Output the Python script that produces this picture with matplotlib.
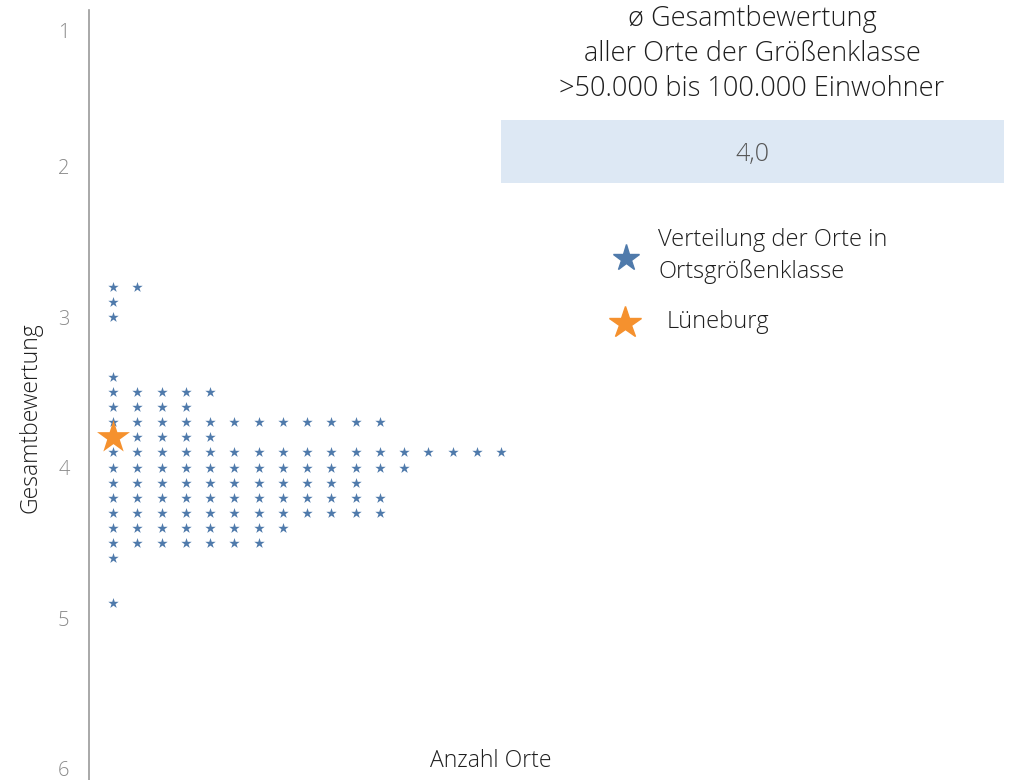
import numpy as np
import matplotlib
matplotlib.use('Agg')
import matplotlib.pyplot as plt
from matplotlib.patches import Rectangle
from matplotlib.transforms import ScaledTranslation

plt.rcParams['font.family'] = ['Open Sans', 'DejaVu Sans']
plt.rcParams['font.weight'] = 'light'

# grade rows and how many places got that grade
grades = [2.8, 2.9, 3.0, 3.4, 3.5, 3.6, 3.7, 3.8, 3.9, 4.0, 4.1, 4.2, 4.3, 4.4, 4.5, 4.6, 4.9]
counts = [2, 1, 1, 1, 5, 4, 12, 5, 17, 13, 11, 12, 12, 8, 7, 1, 1]

highlight_name = 'Lüneburg'
highlight_grade = 3.8
average_grade = '4,0'

title_lines = ['ø Gesamtbewertung', 'aller Orte der Größenklasse', '>50.000 bis 100.000 Einwohner']

blue = '#4f7aab'
orange = '#f5912e'
text_col = '#1e1e1e'

# one star per place, stacked to the right
xs = []
ys = []
for g, c in zip(grades, counts):
    for i in range(c):
        xs.append(i + 1)
        ys.append(g)

fig = plt.figure(figsize=(10.13, 7.8), dpi=100)
ax = fig.add_axes([89 / 1013, 0, 800 / 1013, 770 / 780])

ax.scatter(xs, ys, marker='*', s=62, color=blue, linewidths=0, zorder=2)
ax.scatter([1], [highlight_grade], marker='*', s=620, color=orange, linewidths=0, zorder=3, clip_on=False)

ax.set_xlim(0, 33)
ax.set_ylim(6.076, 0.96)
ax.set_yticks([1, 2, 3, 4, 5, 6])
ax.set_xticks([])
ax.tick_params(axis='y', length=0, pad=14, labelsize=14.5, labelcolor='#8a8a8a')
for s in ['top', 'right', 'bottom']:
    ax.spines[s].set_visible(False)
ax.spines['left'].set_color('#9a9a9a')
ax.spines['left'].set_linewidth(1.2)
# the top label sits a bit lower than its tick
lbl = ax.get_yticklabels()[0]
lbl.set_transform(lbl.get_transform() + ScaledTranslation(0, -14 / 100, fig.dpi_scale_trans))

fig.text(30 / 1013, 1 - 418 / 780, 'Gesamtbewertung', rotation=90, ha='center', va='center',
         fontsize=16.5, color=text_col)
fig.text(491 / 1013, 1 - 761 / 780, 'Anzahl Orte', ha='center', va='center', fontsize=16.5, color=text_col)

# average box on the right
for i, line in enumerate(title_lines):
    fig.text(752 / 1013, 1 - (19 + 35 * i) / 780, line, ha='center', va='center',
             fontsize=19.5, color=text_col)
fig.patches.append(Rectangle((501 / 1013, 1 - 183 / 780), 503 / 1013, 63 / 780,
                             transform=fig.transFigure, facecolor='#dde8f4', edgecolor='none'))
fig.text(752 / 1013, 1 - 155 / 780, average_grade, ha='center', va='center', fontsize=18, color='#555555')

# legend
ax.plot([626 / 1013], [1 - 258 / 780], marker='*', markersize=20, color=blue, linestyle='none',
        transform=fig.transFigure, clip_on=False)
ax.plot([625 / 1013], [1 - 323 / 780], marker='*', markersize=24, color=orange, linestyle='none',
        transform=fig.transFigure, clip_on=False)
fig.text(658 / 1013, 1 - 256 / 780, 'Verteilung der Orte in\nOrtsgrößenklasse', ha='left', va='center',
         fontsize=17, color=text_col, linespacing=1.42)
fig.text(667 / 1013, 1 - 322 / 780, highlight_name, ha='left', va='center', fontsize=17, color=text_col)

fig.savefig('out.png', dpi=100)
